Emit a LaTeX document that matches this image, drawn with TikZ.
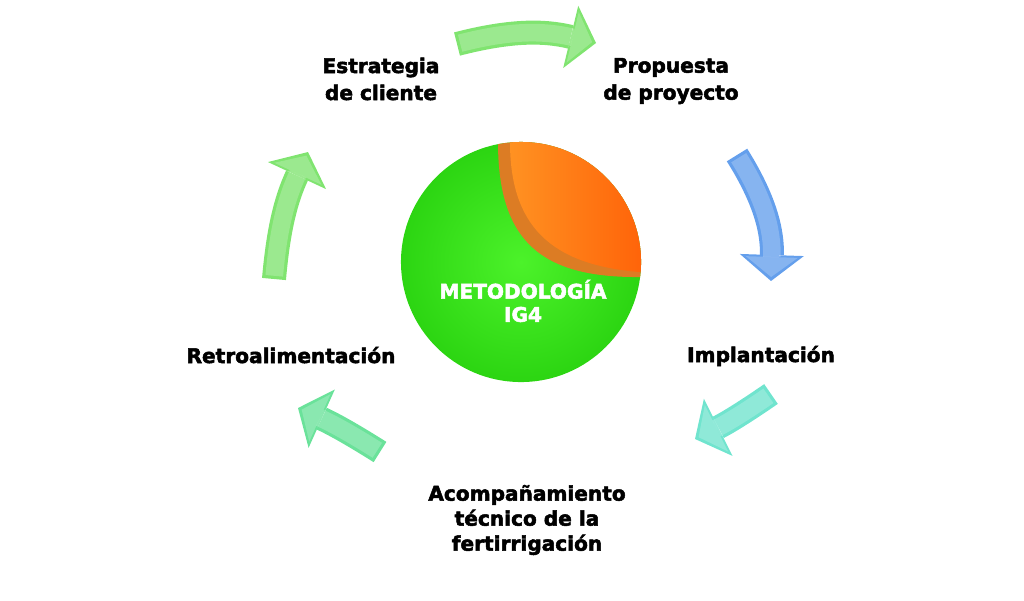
\documentclass[tikz,border=0pt]{standalone}
\usepackage{fontspec}
\setmainfont{DejaVu Sans}[BoldFeatures={FakeBold=2.5}]
\usetikzlibrary{arrows.meta, positioning}

\definecolor{ballgreen}{HTML}{2CD512}
\definecolor{ballcore}{HTML}{4CF22A}
\definecolor{peelorange}{HTML}{FF9222}
\definecolor{peelred}{HTML}{FF5A04}
\definecolor{peelshade}{HTML}{DC7C24}
\definecolor{stepgreen}{HTML}{80E470}
\definecolor{stepblue}{HTML}{649FEC}
\definecolor{stepaqua}{HTML}{70E4CE}
\definecolor{stepmint}{HTML}{6AE29A}

\begin{document}
\begin{tikzpicture}[
    x=0.025cm, y=-0.025cm,
    stage/.style={font=\bfseries\fontsize{14.3}{19.2}\selectfont, align=center,
                  inner sep=0pt},
    flow/.style={line width=0.6cm,
                 -{Triangle[width=1.6cm, length=0.65cm, line width=0pt]},
                 postaction={draw=white, opacity=0.22, line width=0.44cm,
                   shorten <=0.08cm, shorten >=0.1cm,
                   -{Triangle[width=1.3cm, length=0.5cm, line width=0pt]}}},
]
\useasboundingbox (0,0) rectangle (1024,600);

% central ball
\node[circle, minimum size=6cm, inner sep=0pt, inner color=ballcore,
      outer color=ballgreen] (ball) at (521,262) {};
\begin{scope}
    \clip (ball.center) circle (3cm);
    \fill[peelshade] (497,120) -- (498,142) .. controls (498,240) and (540,278)
        .. (640,277) -- (670,277) -- (670,120) -- cycle;
    \shade[left color=peelorange, right color=peelred] (509,120) -- (510,142)
        .. controls (510,225) and (550,265) .. (640,272) -- (670,272)
        -- (670,120) -- cycle;
\end{scope}
\node[stage, text=white, font=\bfseries\fontsize{14.3}{16.5}\selectfont]
    (metod) at (523,301) {METODOLOGÍA\\IG4};

% stages
\node[stage] (estrategia) at (381,79) {Estrategia\\de cliente};
\node[stage] (propuesta) at (671,81) {Propuesta\\de proyecto};
\node[stage, anchor=base] (implantacion) at (761,362) {Implantación};
\node[stage, font=\bfseries\fontsize{14.3}{17.8}\selectfont]
    (acomp) at (527,520) {Acompañamiento\\técnico de la\\fertirrigación};
\node[stage, anchor=base] (retro) at (291,363) {Retroalimentación};

% cycle arrows
\coordinate (a1) at (457,44);  \coordinate (b1) at (596,43);
\coordinate (a2) at (737,155); \coordinate (b2) at (771,281);
\coordinate (a3) at (771,394); \coordinate (b3) at (695,439);
\coordinate (a4) at (380,452); \coordinate (b4) at (298,408);
\coordinate (a5) at (274,279); \coordinate (b5) at (308,152);

\draw[flow, stepgreen] (a1) to[bend left=14] (b1);
\draw[flow, stepblue] (a2) to[bend left=17] (b2);
\draw[flow, stepaqua] (a3) to[bend left=4] (b3);
\draw[flow, stepmint] (a4) to[bend right=4] (b4);
\draw[flow, stepgreen] (a5) to[bend left=10] (b5);
\end{tikzpicture}
\end{document}
